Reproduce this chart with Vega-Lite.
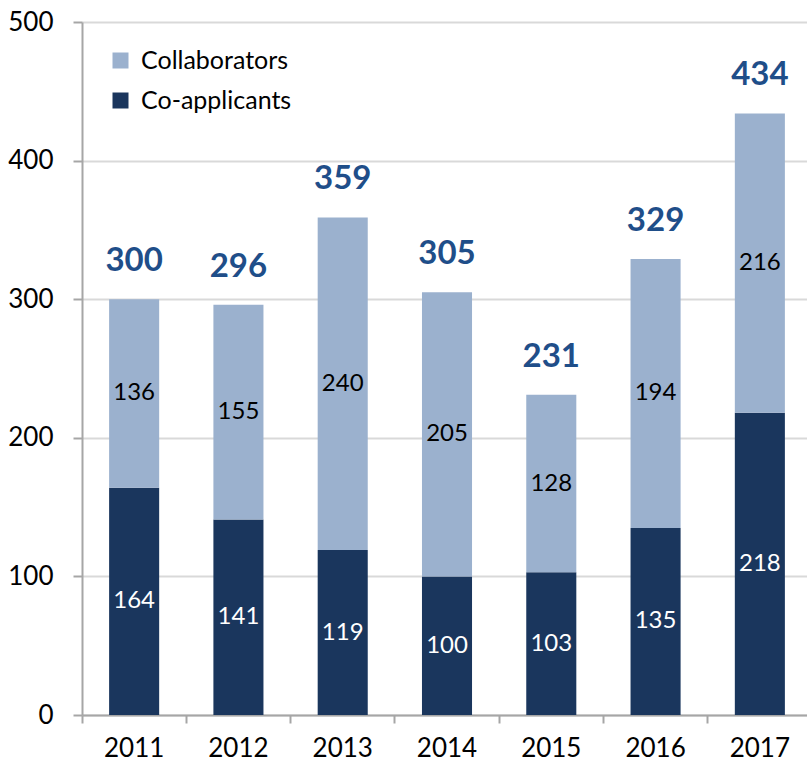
{
  "$schema": "https://vega.github.io/schema/vega-lite/v6.json",
  "autosize": {"type": "none"},
  "padding": {"left": 82, "top": 22, "right": 0, "bottom": 50},
  "width": 730,
  "height": 693,
  "background": "white",
  "config": {
    "font": "Lato",
    "view": {"stroke": null}
  },
  "data": {
    "values": [
      {"year": "2011", "type": "Co-applicants", "value": 164},
      {"year": "2011", "type": "Collaborators", "value": 136},
      {"year": "2012", "type": "Co-applicants", "value": 141},
      {"year": "2012", "type": "Collaborators", "value": 155},
      {"year": "2013", "type": "Co-applicants", "value": 119},
      {"year": "2013", "type": "Collaborators", "value": 240},
      {"year": "2014", "type": "Co-applicants", "value": 100},
      {"year": "2014", "type": "Collaborators", "value": 205},
      {"year": "2015", "type": "Co-applicants", "value": 103},
      {"year": "2015", "type": "Collaborators", "value": 128},
      {"year": "2016", "type": "Co-applicants", "value": 135},
      {"year": "2016", "type": "Collaborators", "value": 194},
      {"year": "2017", "type": "Co-applicants", "value": 218},
      {"year": "2017", "type": "Collaborators", "value": 216}
    ]
  },
  "encoding": {
    "x": {
      "field": "year",
      "type": "ordinal",
      "scale": {"paddingInner": 0, "paddingOuter": 0},
      "axis": {
        "title": null,
        "labelAngle": 0,
        "labelFont": "Lato",
        "labelFontSize": 26,
        "labelColor": "#000000",
        "labelPadding": 12,
        "bandPosition": 0,
        "tickSize": 8,
        "tickColor": "#A6A6A6",
        "tickWidth": 2,
        "domainColor": "#A6A6A6",
        "domainWidth": 2,
        "grid": false
      }
    }
  },
  "layer": [
    {
      "mark": {"type": "bar", "width": {"band": 0.48}},
      "encoding": {
        "y": {
          "field": "value",
          "type": "quantitative",
          "stack": "zero",
          "scale": {"domain": [0, 500], "nice": false},
          "axis": {
            "title": null,
            "values": [0, 100, 200, 300, 400, 500],
            "labelFont": "Lato",
            "labelFontSize": 26,
            "labelColor": "#000000",
            "labelPadding": 20,
            "tickSize": 9,
            "tickColor": "#A6A6A6",
            "tickWidth": 2,
            "domainColor": "#A6A6A6",
            "domainWidth": 2,
            "grid": true,
            "gridColor": "#D9D9D9",
            "gridWidth": 2
          }
        },
        "color": {
          "field": "type",
          "type": "nominal",
          "scale": {"domain": ["Collaborators", "Co-applicants"], "range": ["#9BB1CE", "#1A365D"]},
          "legend": {
            "title": null,
            "orient": "none",
            "legendX": 26,
            "legendY": 26,
            "symbolType": "square",
            "symbolSize": 256,
            "symbolStrokeWidth": 0,
            "labelFont": "Lato",
            "labelFontSize": 25,
            "labelColor": "#000000",
            "labelOffset": 8,
            "rowPadding": 14
          }
        },
        "order": {"field": "type", "sort": "ascending"}
      }
    },
    {
      "mark": {"type": "text", "fontSize": 24, "font": "Lato", "baseline": "middle"},
      "encoding": {
        "y": {"field": "value", "type": "quantitative", "stack": "zero", "bandPosition": 0.5},
        "text": {"field": "value", "type": "quantitative"},
        "order": {"field": "type", "sort": "ascending"},
        "color": {
          "condition": {"test": "datum.type === 'Co-applicants'", "value": "#FFFFFF"},
          "value": "#000000"
        }
      }
    },
    {
      "transform": [
        {"aggregate": [{"op": "sum", "field": "value", "as": "total"}], "groupby": ["year"]}
      ],
      "mark": {"type": "text", "fontSize": 33, "font": "Lato", "fontWeight": "bold", "color": "#1F4E89", "baseline": "alphabetic", "dy": -28},
      "encoding": {
        "y": {"field": "total", "type": "quantitative"},
        "text": {"field": "total", "type": "quantitative"}
      }
    }
  ]
}
